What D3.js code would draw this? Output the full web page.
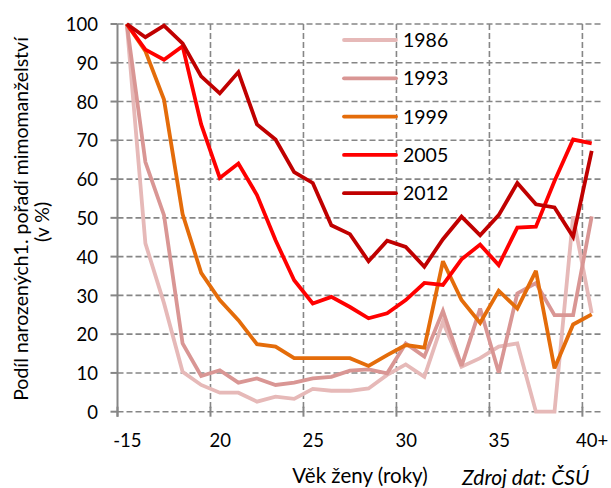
<!DOCTYPE html>
<html><head><meta charset="utf-8">
<script src="https://cdn.jsdelivr.net/npm/d3@7"></script>
<style>body{margin:0;background:#fff}svg{display:block}text{font-family:Lato,"Open Sans",sans-serif;fill:#000}</style>
</head><body><svg id="c" width="611" height="488"></svg>
<script>
const categories = ["-15","16","17","18","19","20","21","22","23","24","25","26","27","28","29","30","31","32","33","34","35","36","37","38","39","40+"];
const xTickLabels = ["-15","20","25","30","35","40+"];
const yTicks = [0,10,20,30,40,50,60,70,80,90,100];
const seriesNames = ["1986","1993","1999","2005","2012"];
const colors = ["#E6B9B8","#D99694","#E46C0A","#FF0000","#C00000"];
const v1986 = [100,43.4,28,10.3,6.9,4.9,4.9,2.6,3.9,3.3,5.9,5.4,5.4,6.0,9.5,12.2,9.0,23.2,11.6,13.8,16.8,17.6,0,0,50.4,25.4];
const v1993 = [100,64.4,50.7,17.6,9.2,10.7,7.5,8.6,6.9,7.5,8.6,9.0,10.6,10.9,9.9,17.6,14.2,26.0,11.8,26.6,10.1,30.5,33.2,24.9,24.9,50.4];
const v1999 = [100,93,80.5,51,35.8,28.8,23.6,17.4,16.8,13.8,13.8,13.8,13.8,11.8,14.6,17.2,16.5,38.8,28.8,22.9,31.2,26.6,36.3,11.2,22.5,25.1];
const v2005 = [100,93.4,90.8,94.3,74.1,60.3,64.0,55.9,44.2,33.9,27.9,29.6,27,24.1,25.4,28.8,33.2,32.7,39.3,43.1,37.8,47.5,47.7,59.5,70.2,69.2];
const v2012 = [100,96.6,99.6,95,86.5,82.1,87.6,74.1,70.2,61.8,59,48.1,45.8,38.8,44.1,42.5,37.4,44.5,50.3,45.5,50.7,59,53.5,52.7,45.1,67.3];
const seriesValues = [v1986,v1993,v1999,v2005,v2012];

const svg = d3.select("#c");
const L = 117.5, R = 601, T = 24, B = 411.7;
const x = d3.scaleBand().domain(categories).range([L,R]).paddingInner(0).paddingOuter(0);
const cx = c => x(c) + x.bandwidth()/2;
const y = d3.scaleLinear().domain([0,100]).range([B,T]);
const gridColor = "#868686";

// horizontal gridlines (including 0)
svg.append("g").selectAll("line").data(yTicks).join("line")
  .attr("x1",L).attr("x2",R).attr("y1",d=>y(d)).attr("y2",d=>y(d))
  .attr("stroke",gridColor).attr("stroke-width",1.6).attr("stroke-dasharray","6,3");
// vertical gridlines at every 5th category boundary
const vIdx = [5,10,15,20,25];
svg.append("g").selectAll("line").data(vIdx).join("line")
  .attr("x1",d=>x(categories[d])).attr("x2",d=>x(categories[d]))
  .attr("y1",T).attr("y2",B)
  .attr("stroke",gridColor).attr("stroke-width",1.6).attr("stroke-dasharray","6,3");

// y axis
const yAxis = d3.axisLeft(y).tickValues(yTicks).tickSize(0).tickPadding(0);
const gy = svg.append("g").attr("transform",`translate(${L},0)`).call(yAxis);
gy.select(".domain").remove();
gy.selectAll("text").attr("x",-19.5).attr("dy","0.36em").style("font-size","18.5px").style("font-family","Lato").attr("fill","#000");
svg.append("line").attr("x1",L).attr("x2",L).attr("y1",T).attr("y2",B+5).attr("stroke",gridColor).attr("stroke-width",2);
svg.append("g").selectAll("line").data(yTicks).join("line")
  .attr("x1",L-7).attr("x2",L).attr("y1",d=>y(d)).attr("y2",d=>y(d))
  .attr("stroke",gridColor).attr("stroke-width",2);

// x axis ticks
svg.append("g").selectAll("line").data([0,5,10,15,20,25]).join("line")
  .attr("x1",d=>x(categories[d])).attr("x2",d=>x(categories[d]))
  .attr("y1",B-5).attr("y2",B+5).attr("stroke",gridColor).attr("stroke-width",2);
const xAxis = d3.axisBottom(d3.scalePoint().domain(categories).range([cx(categories[0]),cx(categories[25])]))
  .tickValues(xTickLabels).tickSize(0).tickPadding(0);
const gx = svg.append("g").attr("transform",`translate(0,${B})`).call(xAxis);
gx.select(".domain").remove();
gx.selectAll("text").attr("y",35.5).attr("dy",0).style("font-size","18.5px").style("font-family","Lato").attr("fill","#000");

// lines
const line = d3.line().x((d,i)=>cx(categories[i])).y(d=>y(d)).curve(d3.curveLinear);
svg.append("g").selectAll("path").data(seriesValues).join("path")
  .attr("d",d=>line(d)).attr("fill","none")
  .attr("stroke",(d,i)=>colors[i]).attr("stroke-width",3.8).attr("stroke-linejoin","miter").attr("stroke-miterlimit",3);

// legend
const lg = svg.append("g").selectAll("g").data(seriesNames).join("g")
  .attr("transform",(d,i)=>`translate(0,${40+i*38.3})`);
lg.append("rect").attr("x",343).attr("y",-2.5).attr("width",53).attr("height",5).attr("fill","#fff");
lg.append("line").attr("x1",344).attr("x2",396).attr("y1",0).attr("y2",0)
  .attr("stroke",(d,i)=>colors[i]).attr("stroke-width",3.8).attr("stroke-linecap","round");
lg.append("text").attr("x",403).attr("y",7).style("font-size","19.5px").text(d=>d);

// axis titles
svg.append("text").attr("transform","translate(28,219) rotate(-90)").attr("text-anchor","middle")
  .style("font-size","19.5px").text("Podíl narozených1. pořadí  mimomanželství");
svg.append("text").attr("transform","translate(49,222) rotate(-90)").attr("text-anchor","middle")
  .style("font-size","19.5px").text("(v %)");
svg.append("text").attr("x",360).attr("y",483).attr("text-anchor","middle").style("font-size","20.5px").text("Věk ženy (roky)");
svg.append("text").attr("x",462).attr("y",485).attr("text-anchor","start").style("font-size","21px").style("font-style","italic").text("Zdroj dat: ČSÚ");
</script></body></html>
